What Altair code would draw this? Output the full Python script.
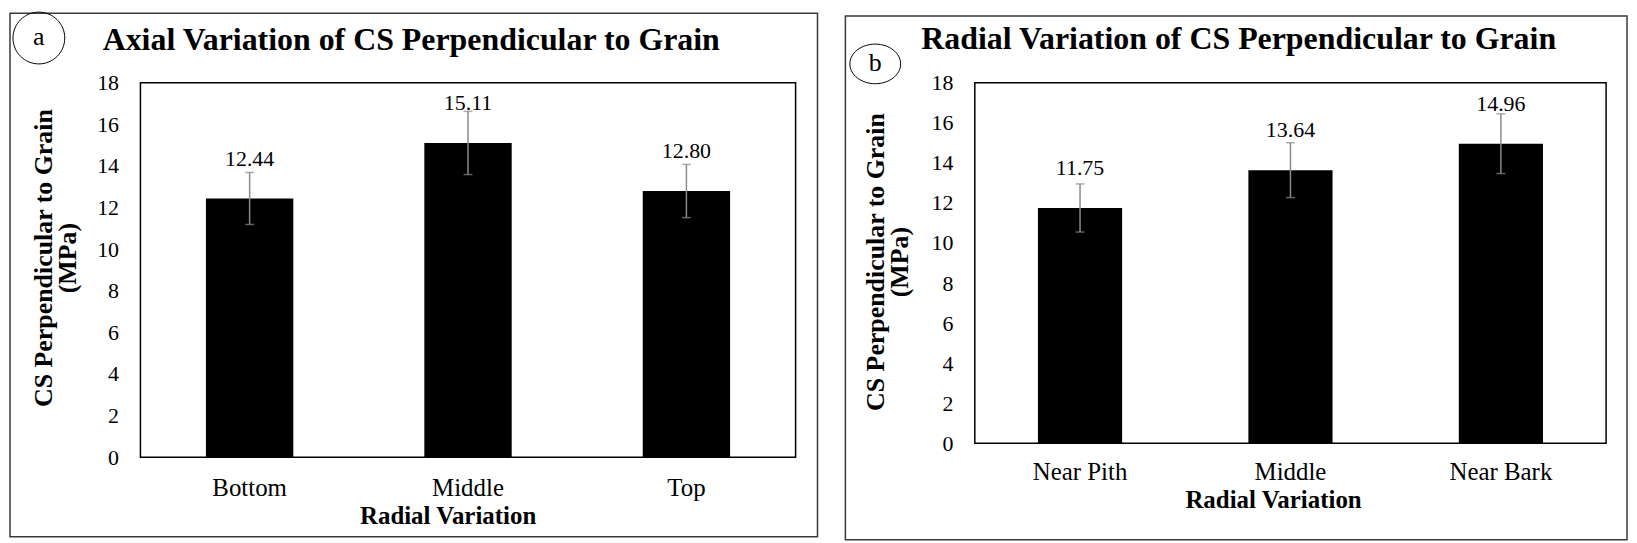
import altair as alt
import pandas as pd

# ---- data ----
cats_a = ["Bottom", "Middle", "Top"]
mean_a = [12.44, 15.11, 12.80]
err_a = [1.25, 1.52, 1.28]

cats_b = ["Near Pith", "Middle", "Near Bark"]
mean_b = [11.75, 13.64, 14.96]
err_b = [1.20, 1.37, 1.49]

y_ticks = [0, 2, 4, 6, 8, 10, 12, 14, 16, 18]

title_a = "Axial Variation of CS Perpendicular to Grain"
title_b = "Radial Variation of CS Perpendicular to Grain"
y_title = ["CS Perpendicular to Grain", "(MPa)"]
x_title = "Radial Variation"

FONT = "Liberation Serif"
CIRCLE = "M-1,0A1,1,0,1,0,1,0A1,1,0,1,0,-1,0Z"
ELLIPSE = "M-1,0A1,0.78,0,1,0,1,0A1,0.78,0,1,0,-1,0Z"


def panel(cats, means, errs, title, letter, W, H, g):
    df = pd.DataFrame({
        "cat": cats,
        "mean": means,
        "lo": [m - e for m, e in zip(means, errs)],
        "hi": [m + e for m, e in zip(means, errs)],
        "label": [f"{m:.2f}" for m in means],
    })
    one = pd.DataFrame({"k": [0]})

    xs = alt.Scale(paddingInner=0.6, paddingOuter=0.3)
    x = alt.X("cat:N", sort=cats, scale=xs, title=None,
              axis=alt.Axis(labelAngle=0, labelFontSize=25, labelColor="black",
                            labelFont=FONT, ticks=False, domain=False,
                            labelOverlap=False, labelPadding=g["xlabpad"]))
    xn = alt.X("cat:N", sort=cats, scale=xs, title=None)
    y = alt.Y("mean:Q", scale=alt.Scale(domain=[0, 18], nice=False), title=None,
              axis=alt.Axis(values=y_ticks, grid=False, ticks=False, domain=False,
                            labelFontSize=22, labelColor="black", labelFont=FONT,
                            labelOverlap=False, labelPadding=22))

    base = alt.Chart(df)
    bars = base.mark_bar(color="black").encode(x=x, y=y)
    stems = base.mark_rule(color="#8a8a8a", strokeWidth=1.5).encode(
        x=xn, y=alt.Y("lo:Q", title=None), y2="hi:Q")
    cap_lo = base.mark_tick(color="#8a8a8a", size=9, thickness=1.5).encode(
        x=xn, y=alt.Y("lo:Q", title=None))
    cap_hi = base.mark_tick(color="#8a8a8a", size=9, thickness=1.5).encode(
        x=xn, y=alt.Y("hi:Q", title=None))
    labels = base.mark_text(fontSize=22, dy=-40, baseline="middle", color="black",
                            font=FONT).encode(x=xn, y=alt.Y("mean:Q", title=None),
                                              text="label:N")

    deco = alt.Chart(one)
    outer = deco.mark_rect(fill="white", fillOpacity=0, stroke="#3a3a3a",
                           strokeWidth=1.5).encode(
        x=alt.value(g["ol"]), x2=alt.value(W + g["or"]),
        y=alt.value(g["ot"]), y2=alt.value(H + g["ob"]))
    circ = deco.mark_point(shape=g["shape"], size=g["csize"], filled=False,
                           stroke="black", strokeWidth=1, opacity=1).encode(
        x=alt.value(g["cx"]), y=alt.value(g["cy"]))
    let = deco.mark_text(fontSize=26, font=FONT, color="black", baseline="middle").encode(
        x=alt.value(g["cx"]), y=alt.value(g["cy"] - 1), text=alt.value(letter))
    ttl = deco.mark_text(fontSize=32, fontWeight="bold", font=FONT, color="black",
                         baseline="middle").encode(
        x=alt.value(g["tx"]), y=alt.value(g["ty"]), text=alt.value(title))
    ytl = deco.mark_text(fontSize=26, fontWeight="bold", font=FONT, color="black",
                         angle=270, baseline="middle", lineHeight=24).encode(
        x=alt.value(g["yx"]), y=alt.value(g["yy"]), text=alt.value(y_title))
    xtl = deco.mark_text(fontSize=25, fontWeight="bold", font=FONT, color="black",
                         baseline="middle").encode(
        x=alt.value(g["xx"]), y=alt.value(H + g["xy"]), text=alt.value(x_title))

    return alt.layer(outer, bars, stems, cap_lo, cap_hi, labels, circ, let, ttl, ytl,
                     xtl).properties(width=W, height=H)


Wa, Ha = 658, 376
geo_a = dict(ol=-131, **{"or": 22}, ot=-70, ob=80, shape=CIRCLE, csize=52 * 52,
             cx=-102, cy=-45, tx=272, ty=-43, yx=-97, yy=176, xx=309, xy=59,
             xlabpad=18)
Wb, Hb = 634, 362
geo_b = dict(ol=-130, **{"or": 21}, ot=-67, ob=97, shape=ELLIPSE, csize=51 * 51,
             cx=-100, cy=-19, tx=265, ty=-44, yx=-99, yy=180, xx=300, xy=57,
             xlabpad=16)

pa = panel(cats_a, mean_a, err_a, title_a, "a", Wa, Ha, geo_a)
pb = panel(cats_b, mean_b, err_b, title_b, "b", Wb, Hb, geo_b)

chart = alt.hconcat(pa, pb, spacing=24).properties(padding=0).configure(
    font=FONT
).configure_view(stroke="black", strokeWidth=1.5)

chart.save("out.html", embed_options={"renderer": "svg", "actions": False})
